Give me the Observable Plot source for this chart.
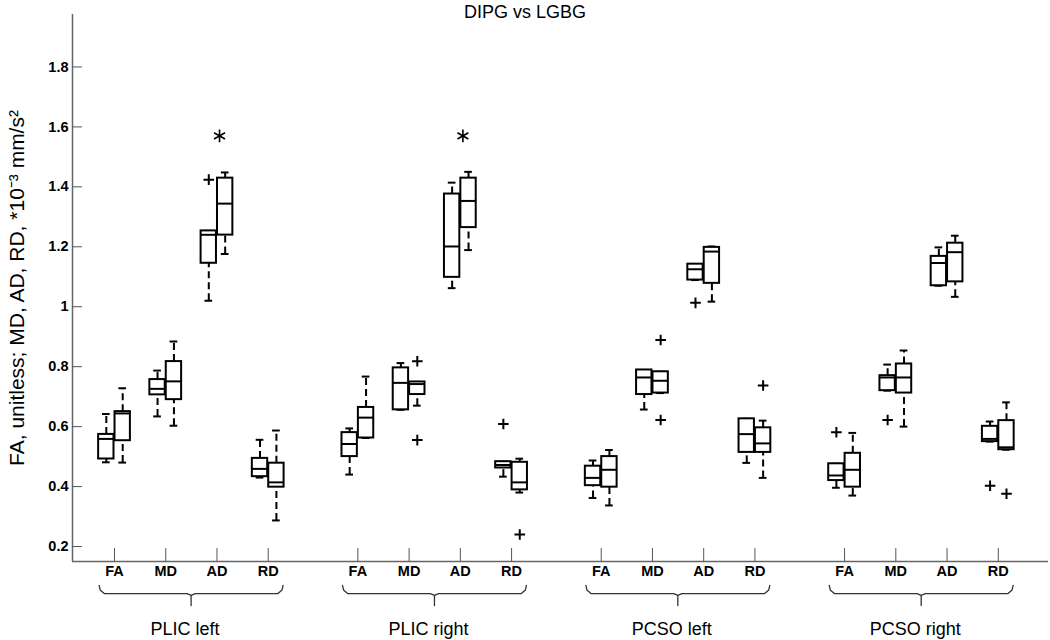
<!DOCTYPE html>
<html>
<head>
<meta charset="utf-8">
<script src="https://cdn.jsdelivr.net/npm/d3@7"></script>
<script src="https://cdn.jsdelivr.net/npm/@observablehq/plot@0.6"></script>
<style>
  html, body { margin: 0; padding: 0; background: #fff; }
  #wrap { position: relative; width: 1050px; height: 640px; font-family: "Liberation Sans", Arial, sans-serif; }
  #title { position: absolute; left: 0; top: 0; width: 1050px; text-align: center; font-size: 18px; line-height: 24px; color: #000; }
</style>
</head>
<body>
<div id="wrap"><div id="title">DIPG vs LGBG</div></div>
<script>
// ---- data ----
const groups = ["PLIC left", "PLIC right", "PCSO left", "PCSO right"];
const metrics = ["FA", "MD", "AD", "RD"];
const cohorts = ["DIPG", "LGBG"];
const yTicks = [0.2, 0.4, 0.6, 0.8, 1.0, 1.2, 1.4, 1.6, 1.8];
const yLabel = "FA, unitless; MD, AD, RD, *10\u207B\u00B3 mm/s\u00B2";

// order: group -> metric -> [DIPG, LGBG]
const whiskerLow = [
  0.481, 0.480, 0.634, 0.603, 1.020, 1.176, 0.430, 0.287,
  0.440, 0.562, 0.656, 0.670, 1.062, 1.189, 0.433, 0.380,
  0.362, 0.337, 0.657, 0.712, 1.089, 1.017, 0.479, 0.429,
  0.396, 0.370, 0.720, 0.600, 1.070, 1.033, 0.550, 0.523
];
const q1 = [
  0.492, 0.553, 0.706, 0.690, 1.145, 1.239, 0.433, 0.398,
  0.500, 0.562, 0.656, 0.707, 1.098, 1.264, 0.462, 0.389,
  0.403, 0.398, 0.707, 0.712, 1.089, 1.078, 0.514, 0.514,
  0.420, 0.398, 0.720, 0.712, 1.070, 1.083, 0.550, 0.523
];
const median = [
  0.559, 0.644, 0.726, 0.751, 1.240, 1.344, 0.459, 0.414,
  0.542, 0.630, 0.746, 0.742, 1.201, 1.353, 0.472, 0.414,
  0.429, 0.456, 0.764, 0.753, 1.125, 1.184, 0.575, 0.544,
  0.437, 0.456, 0.764, 0.764, 1.146, 1.182, 0.559, 0.531
];
const q3 = [
  0.574, 0.650, 0.757, 0.817, 1.253, 1.429, 0.494, 0.478,
  0.580, 0.664, 0.796, 0.749, 1.376, 1.429, 0.483, 0.481,
  0.468, 0.500, 0.789, 0.783, 1.142, 1.198, 0.626, 0.596,
  0.476, 0.511, 0.770, 0.809, 1.168, 1.212, 0.601, 0.620
];
const whiskerHigh = [
  0.642, 0.728, 0.787, 0.884, 1.253, 1.448, 0.556, 0.587,
  0.594, 0.767, 0.812, 0.749, 1.414, 1.450, 0.483, 0.493,
  0.487, 0.522, 0.789, 0.783, 1.142, 1.201, 0.626, 0.620,
  0.476, 0.579, 0.807, 0.854, 1.198, 1.237, 0.617, 0.681
];
const outliers = [
  {group: "PLIC left",  metric: "AD", cohort: "DIPG", value: 1.424},
  {group: "PLIC right", metric: "MD", cohort: "LGBG", value: 0.818},
  {group: "PLIC right", metric: "MD", cohort: "LGBG", value: 0.555},
  {group: "PLIC right", metric: "RD", cohort: "DIPG", value: 0.609},
  {group: "PLIC right", metric: "RD", cohort: "LGBG", value: 0.240},
  {group: "PCSO left",  metric: "MD", cohort: "LGBG", value: 0.889},
  {group: "PCSO left",  metric: "MD", cohort: "LGBG", value: 0.622},
  {group: "PCSO left",  metric: "AD", cohort: "DIPG", value: 1.013},
  {group: "PCSO left",  metric: "RD", cohort: "LGBG", value: 0.737},
  {group: "PCSO right", metric: "FA", cohort: "DIPG", value: 0.581},
  {group: "PCSO right", metric: "MD", cohort: "DIPG", value: 0.622},
  {group: "PCSO right", metric: "RD", cohort: "DIPG", value: 0.403},
  {group: "PCSO right", metric: "RD", cohort: "LGBG", value: 0.376}
];
const significant = [
  {group: "PLIC left",  metric: "AD", value: 1.57},
  {group: "PLIC right", metric: "AD", value: 1.57}
];

// ---- layout helpers ----
const groupStep = 4.75;
const half = 0.16;
const pos = (g, m) => 1 + groups.indexOf(g) * groupStep + metrics.indexOf(m);
const center = (g, m, c) => pos(g, m) + (c === "DIPG" ? -half : half);

const boxes = [];
groups.forEach((g, gi) => metrics.forEach((m, mi) => cohorts.forEach((c, ci) => {
  const i = gi * 8 + mi * 2 + ci;
  const cx = center(g, m, c);
  boxes.push({group: g, metric: m, cohort: c, cx,
    x1: cx - 0.15, x2: cx + 0.15,
    lo: whiskerLow[i], q1: q1[i], med: median[i], q3: q3[i], hi: whiskerHigh[i]});
})));
const outPts = outliers.map(d => ({...d, cx: center(d.group, d.metric, d.cohort)}));
const sigPts = significant.map(d => ({...d, cx: pos(d.group, d.metric) + 0.05}));

const tickPos = [];
const tickName = new Map();
groups.forEach(g => metrics.forEach(m => { const p = pos(g, m); tickPos.push(p); tickName.set(p, m); }));

const xDomain = [0.18, 19.23];
const yDomain = [0.15, 1.975];

// braces below the axis (y values beyond the domain, in the bottom margin)
const braceTop = 0.07, braceMid = 0.043, braceTip = 0.003;
const braces = [];
const groupLabels = [];
groups.forEach(g => {
  const s = pos(g, "FA") - 0.3, e = pos(g, "RD") + 0.29, mid = (s + e) / 2;
  groupLabels.push({group: g, x: mid});
  [[s, braceTop], [s + 0.02, braceMid + 0.012], [s + 0.1, braceMid], [mid - 0.08, braceMid], [mid, braceMid - 0.006], [mid, braceTip],
   [mid, braceMid - 0.006], [mid + 0.08, braceMid], [e - 0.1, braceMid], [e - 0.02, braceMid + 0.012], [e, braceTop]]
    .forEach(([x, y]) => braces.push({group: g, x, y}));
});

const stroke = "#000";
const chart = Plot.plot({
  width: 1050,
  height: 640,
  marginLeft: 72,
  marginRight: 2,
  marginTop: 14,
  marginBottom: 79,
  style: {fontFamily: "'Liberation Sans', Arial, sans-serif", fontSize: "14px", background: "transparent"},
  x: {type: "linear", domain: xDomain},
  y: {type: "linear", domain: yDomain},
  marks: [
    // axis lines
    Plot.ruleX([xDomain[0]], {stroke: "#666", strokeWidth: 1.5}),
    Plot.ruleY([yDomain[0]], {stroke: "#666", strokeWidth: 1.5}),
    Plot.axisY({ticks: yTicks, tickFormat: d3.format("~g"), tickSize: -10, tickPadding: 14,
      stroke: "#555", fill: "#000", fontWeight: "bold", fontSize: 14.5, label: null}),
    Plot.axisX({ticks: tickPos, tickFormat: d => tickName.get(d), tickSize: -13, tickPadding: 17,
      stroke: "#555", fill: "#000", fontWeight: "bold", fontSize: 14.5, label: null}),
    // whiskers
    Plot.ruleX(boxes, {x: "cx", y1: "q3", y2: "hi", stroke, strokeWidth: 2, strokeDasharray: "7,4"}),
    Plot.ruleX(boxes, {x: "cx", y1: "lo", y2: "q1", stroke, strokeWidth: 2, strokeDasharray: "7,4"}),
    Plot.ruleY(boxes, {y: "hi", x1: d => d.cx - 0.075, x2: d => d.cx + 0.075, stroke, strokeWidth: 2}),
    Plot.ruleY(boxes, {y: "lo", x1: d => d.cx - 0.075, x2: d => d.cx + 0.075, stroke, strokeWidth: 2}),
    // boxes
    Plot.rect(boxes, {x1: "x1", x2: "x2", y1: "q1", y2: "q3", fill: "white", stroke, strokeWidth: 2}),
    Plot.ruleY(boxes, {y: "med", x1: "x1", x2: "x2", stroke, strokeWidth: 2}),
    // outliers
    Plot.dot(outPts, {x: "cx", y: "value", symbol: "plus", r: 3.5, stroke, strokeWidth: 2}),
    // significance
    Plot.dot(sigPts, {x: "cx", y: "value", symbol: "asterisk", r: 6, stroke, strokeWidth: 1.6}),
    // braces and group labels
    Plot.line(braces, {x: "x", y: "y", z: "group", stroke: "#333", strokeWidth: 1.3, clip: false}),
    Plot.text(groupLabels, {x: "x", text: "group", frameAnchor: "bottom", dy: 68, dx: -6, fontSize: 18, fill: "#000", lineAnchor: "middle"}),
    // y label
    Plot.text([yLabel], {text: d => d, frameAnchor: "left", textAnchor: "middle", rotate: -90, dx: -55, fontSize: 21, fill: "#000"})
  ]
});
document.getElementById("wrap").appendChild(chart);
</script>
</body>
</html>
